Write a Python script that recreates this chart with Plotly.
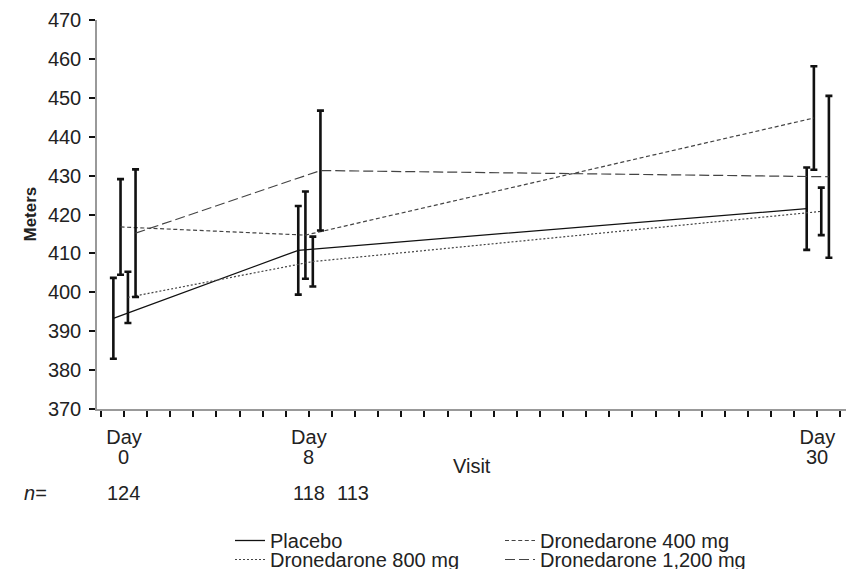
import plotly.graph_objects as go

# ---- data ----
visit_days = [0, 8, 30]
visit_day_labels = ["0", "8", "30"]

series_names = ["Placebo", "Dronedarone 400 mg", "Dronedarone 800 mg", "Dronedarone 1,200 mg"]
placebo_mean = [393.3, 410.8, 421.5]
placebo_se = [10.4, 11.4, 10.6]
d400_mean = [416.8, 414.7, 444.8]
d400_se = [12.3, 11.2, 13.3]
d800_mean = [398.7, 407.9, 420.8]
d800_se = [6.6, 6.4, 6.1]
d1200_mean = [415.2, 431.3, 429.7]
d1200_se = [16.4, 15.4, 20.8]

n_labels = ["124", "118", "113"]
n_days = [0, 8, 9.9]

means = [placebo_mean, d400_mean, d800_mean, d1200_mean]
ses = [placebo_se, d400_se, d800_se, d1200_se]

# ---- style ----
offsets = [-0.46, -0.15, 0.17, 0.50]
dashes = ["solid", "4px,2.6px", "2px,2px", "10px,4px"]
colors = ["#111111", "#444444", "#444444", "#444444"]
widths = [1.3, 1.2, 1.2, 1.2]
legends = ["legend", "legend", "legend2", "legend2"]
FONT = "Liberation Sans, Arial, Helvetica, sans-serif"
TXT = "#222222"
FS = 20

fig = go.Figure()
for i, name in enumerate(series_names):
    fig.add_trace(go.Scatter(
        x=[d + offsets[i] for d in visit_days],
        y=means[i],
        mode="lines",
        name=name,
        legend=legends[i],
        line=dict(color=colors[i], width=widths[i], dash=dashes[i]),
        error_y=dict(type="data", array=ses[i], visible=True,
                     color="#111111", thickness=2.6, width=3.5),
        showlegend=True,
    ))

L, R, T, B = 97, 2, 20, 160
W, H = 848, 569
pw = W - L - R
ph = H - T - B

def px_to_paper_x(px):
    return (px - L) / pw

def px_to_paper_y(py):
    return (H - B - py) / ph

tickvals = list(range(-1, 32))
ticktext = ["Day" if v in visit_days else "" for v in tickvals]

fig.update_layout(
    width=W, height=H,
    margin=dict(l=L, r=R, t=T, b=B, autoexpand=False),
    plot_bgcolor="white", paper_bgcolor="white",
    font=dict(family=FONT, size=FS, color=TXT),
    xaxis=dict(range=[-1.168, 31.24], tickvals=tickvals, ticktext=ticktext,
               ticks="outside", ticklen=6, tickwidth=1.6, tickcolor="#111",
               showline=True, linecolor="#999", linewidth=1.5,
               showgrid=False, zeroline=False, ticklabelstandoff=3,
               tickfont=dict(size=FS, color=TXT)),
    yaxis=dict(range=[370, 470], dtick=10, tick0=370,
               ticks="outside", ticklen=6, tickwidth=1.6, tickcolor="#111",
               showline=True, linecolor="#999", linewidth=1.5,
               showgrid=False, zeroline=False, ticklabelstandoff=4,
               tickfont=dict(size=FS, color=TXT)),
    legend=dict(orientation="h", x=px_to_paper_x(230), y=px_to_paper_y(521),
                xanchor="left", yanchor="top", entrywidth=225, entrywidthmode="pixels",
                font=dict(size=FS, color=TXT), bgcolor="rgba(0,0,0,0)"),
    legend2=dict(orientation="h", x=px_to_paper_x(230), y=px_to_paper_y(540),
                 xanchor="left", yanchor="top", entrywidth=225, entrywidthmode="pixels",
                 font=dict(size=FS, color=TXT), bgcolor="rgba(0,0,0,0)"),
)

fig.add_annotation(text="<b>Meters</b>", xref="paper", yref="paper",
                   x=px_to_paper_x(30), y=0.5, textangle=-90, showarrow=False,
                   font=dict(size=17, color=TXT), xanchor="center", yanchor="middle")
for lab, d in zip(visit_day_labels, visit_days):
    fig.add_annotation(text=lab, xref="x", yref="paper",
                       x=d, y=px_to_paper_y(457), showarrow=False,
                       font=dict(size=FS, color=TXT), xanchor="center", yanchor="middle")
fig.add_annotation(text="Visit", xref="paper", yref="paper",
                   x=0.5, y=px_to_paper_y(466), showarrow=False,
                   font=dict(size=FS, color=TXT), xanchor="center", yanchor="middle")
fig.add_annotation(text="<i>n</i>=", xref="paper", yref="paper",
                   x=px_to_paper_x(35), y=px_to_paper_y(493), showarrow=False,
                   font=dict(size=FS, color=TXT), xanchor="center", yanchor="middle")
for lab, d in zip(n_labels, n_days):
    fig.add_annotation(text=lab, xref="x", yref="paper",
                       x=d, y=px_to_paper_y(493), showarrow=False,
                       font=dict(size=FS, color=TXT), xanchor="center", yanchor="middle")

fig.write_html("out.html", config={"displayModeBar": False},
               post_script="document.body.style.margin='0';")
